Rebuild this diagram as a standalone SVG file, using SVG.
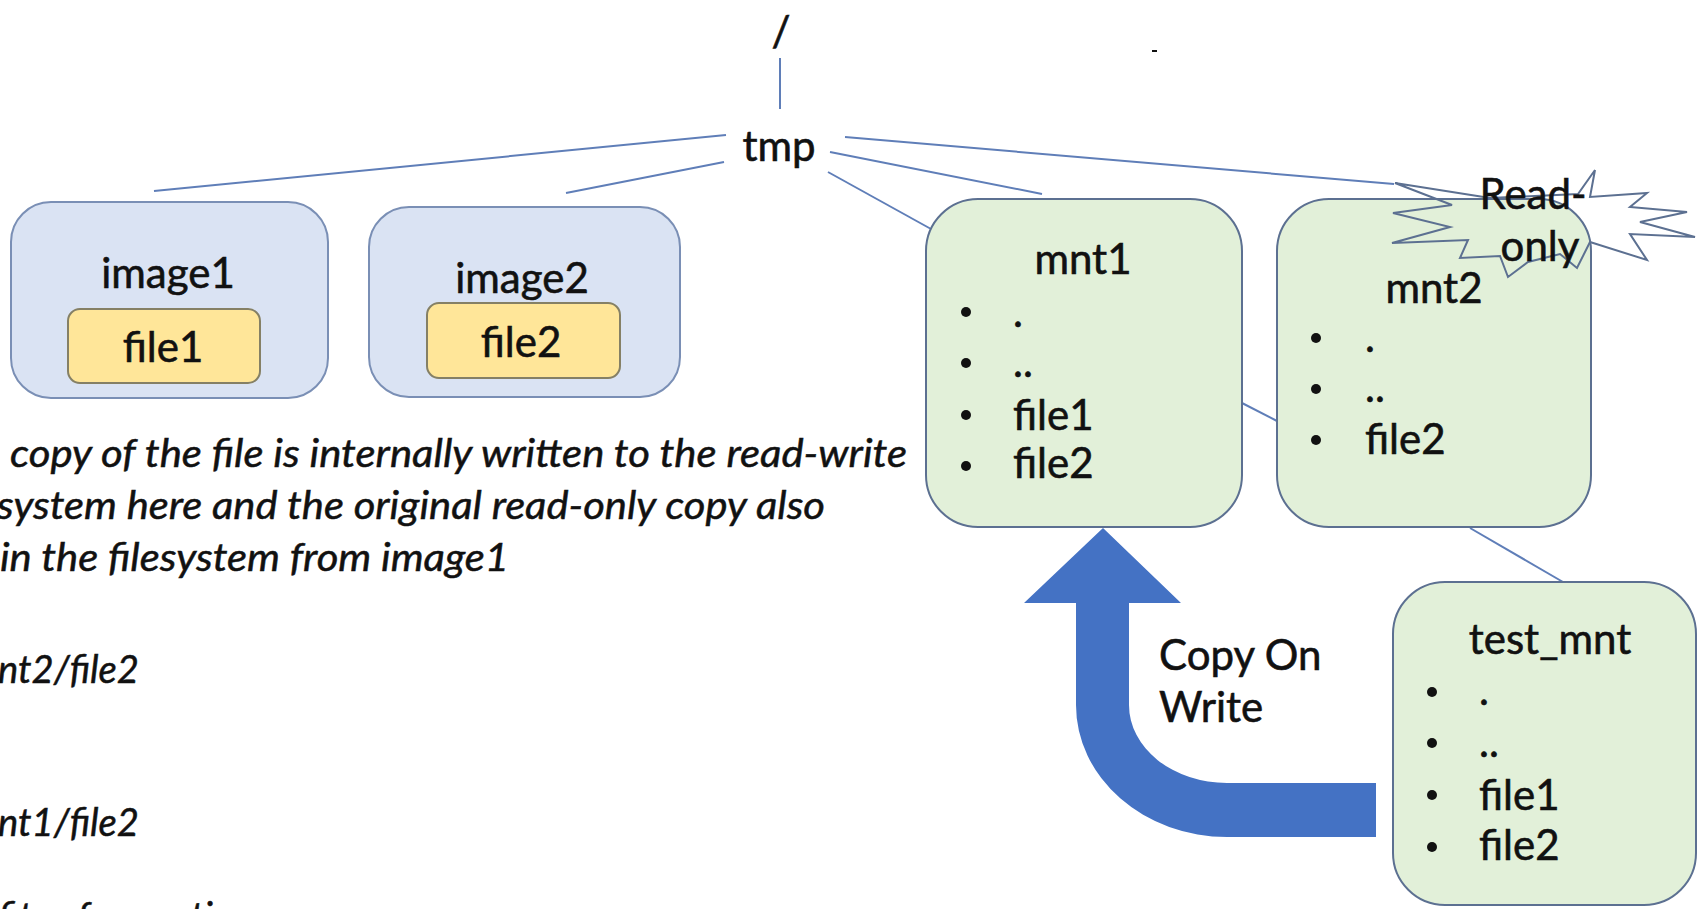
<svg xmlns="http://www.w3.org/2000/svg" width="1698" height="909" viewBox="0 0 1698 909">
  <style>
    .lbl { font-family: Lato, "Liberation Sans", sans-serif; font-size: 42px; fill: #111; stroke: #111; stroke-width: 0.6; }
    .note { font-family: Lato, "Liberation Sans", sans-serif; font-size: 39px; font-style: italic; fill: #111; stroke: #111; stroke-width: 0.5; }
    .img { fill: #DAE3F3; stroke: #7A8FB5; stroke-width: 2; }
    .file { fill: #FFE699; stroke: #858065; stroke-width: 2; }
    .mnt { fill: #E2F0D9; stroke: #5C7091; stroke-width: 2; }
    .conn { stroke: #5F7EB8; stroke-width: 2; fill: none; }
    .bullet { fill: #111; }
  </style>

  <!-- tree edges -->
  <g id="connectors">
    <line class="conn" x1="780" y1="58" x2="780" y2="109"/>
    <line class="conn" x1="726" y1="135" x2="154" y2="191"/>
    <line class="conn" x1="724" y1="162" x2="566" y2="193"/>
    <line class="conn" x1="828" y1="172" x2="931" y2="229"/>
    <line class="conn" x1="830" y1="152" x2="1042" y2="194"/>
    <line class="conn" x1="845" y1="137" x2="1394" y2="184"/>
    <line class="conn" x1="1242" y1="403" x2="1277" y2="421"/>
    <line class="conn" x1="1470" y1="528" x2="1563" y2="582"/>
  </g>

  <!-- root and tmp -->
  <g id="root">
    <text class="lbl" x="781" y="46" text-anchor="middle" font-size="48">/</text>
  </g>
  <g id="tmp">
    <text class="lbl" x="779" y="161" text-anchor="middle">tmp</text>
  </g>

  <!-- image layers -->
  <g id="image1">
    <rect class="img" x="11" y="202" width="317" height="196" rx="40"/>
    <text class="lbl" x="168" y="288" text-anchor="middle">image1</text>
    <rect class="file" x="68" y="309" width="192" height="74" rx="12"/>
    <text class="lbl" x="163" y="362" text-anchor="middle">file1</text>
  </g>
  <g id="image2">
    <rect class="img" x="369" y="207" width="311" height="190" rx="40"/>
    <text class="lbl" x="522" y="293" text-anchor="middle">image2</text>
    <rect class="file" x="427" y="303" width="193" height="75" rx="12"/>
    <text class="lbl" x="521" y="357" text-anchor="middle">file2</text>
  </g>

  <!-- mount points -->
  <g id="mnt1">
    <rect class="mnt" x="926" y="199" width="316" height="328" rx="52"/>
    <text class="lbl" x="1083" y="274" text-anchor="middle">mnt1</text>
    <circle class="bullet" cx="966" cy="312" r="5"/>
    <circle class="bullet" cx="966" cy="363" r="5"/>
    <circle class="bullet" cx="966" cy="415" r="5"/>
    <circle class="bullet" cx="966" cy="466" r="5"/>
    <text class="lbl" x="1013" y="327">.</text>
    <text class="lbl" x="1013" y="377">..</text>
    <text class="lbl" x="1013" y="430">file1</text>
    <text class="lbl" x="1013" y="478">file2</text>
  </g>
  <g id="mnt2">
    <rect class="mnt" x="1277" y="199" width="314" height="328" rx="52"/>
    <text class="lbl" x="1434" y="303" text-anchor="middle">mnt2</text>
    <circle class="bullet" cx="1316" cy="338" r="5"/>
    <circle class="bullet" cx="1316" cy="389" r="5"/>
    <circle class="bullet" cx="1316" cy="440" r="5"/>
    <text class="lbl" x="1365" y="352">.</text>
    <text class="lbl" x="1365" y="402">..</text>
    <text class="lbl" x="1365" y="454">file2</text>
  </g>
  <g id="test_mnt">
    <rect class="mnt" x="1393" y="582" width="303" height="323" rx="52"/>
    <text class="lbl" x="1550" y="654" text-anchor="middle">test_mnt</text>
    <circle class="bullet" cx="1432" cy="692" r="5"/>
    <circle class="bullet" cx="1432" cy="743" r="5"/>
    <circle class="bullet" cx="1432" cy="795" r="5"/>
    <circle class="bullet" cx="1432" cy="847" r="5"/>
    <text class="lbl" x="1479" y="705">.</text>
    <text class="lbl" x="1479" y="757">..</text>
    <text class="lbl" x="1479" y="810">file1</text>
    <text class="lbl" x="1479" y="860">file2</text>
  </g>

  <!-- read-only callout -->
  <g id="readonly">
    <polygon fill="none" stroke="#5C7091" stroke-width="2" stroke-linejoin="miter"
      points="1395,183 1490,198 1578,194 1595,170 1590,197 1647,193 1630,207 1687,212 1640,222 1695,237 1630,234 1647,260 1590,242 1577,268 1560,254 1528,262 1508,277 1500,256 1460,258 1468,240 1392,243 1450,227 1393,213 1452,205"/>
    <text class="lbl" x="1533" y="209" text-anchor="middle" font-size="39">Read-</text>
    <text class="lbl" x="1540" y="261" text-anchor="middle" font-size="39">only</text>
  </g>

  <!-- copy on write arrow -->
  <g id="cow">
    <path fill="#4472C4"
      d="M1103,528 L1181,603 L1129,603 L1129,705 A98,78 0 0 0 1227,783 L1376,783 L1376,837 L1227,837 A151,132 0 0 1 1076,705 L1076,603 L1024,603 Z"/>
    <text class="lbl" x="1159" y="670">Copy On</text>
    <text class="lbl" x="1159" y="722">Write</text>
  </g>

  <!-- stray mark top right -->
  <rect x="1152" y="50" width="5" height="2" fill="#111"/>

  <!-- notes -->
  <g id="notes">
    <text class="note" x="10" y="467" textLength="897" lengthAdjust="spacingAndGlyphs">copy of the file is internally written to the read-write</text>
    <text class="note" x="-3" y="519" textLength="828" lengthAdjust="spacingAndGlyphs">system here and the original read-only copy also</text>
    <text class="note" x="0" y="571" textLength="509" lengthAdjust="spacingAndGlyphs">in the filesystem from image1</text>
    <text class="note" x="-2" y="683" textLength="141" lengthAdjust="spacingAndGlyphs">nt2/file2</text>
    <text class="note" x="-2" y="836" textLength="141" lengthAdjust="spacingAndGlyphs">nt1/file2</text>
    <text class="note" x="-2" y="930">fits of operation</text>
  </g>
</svg>
